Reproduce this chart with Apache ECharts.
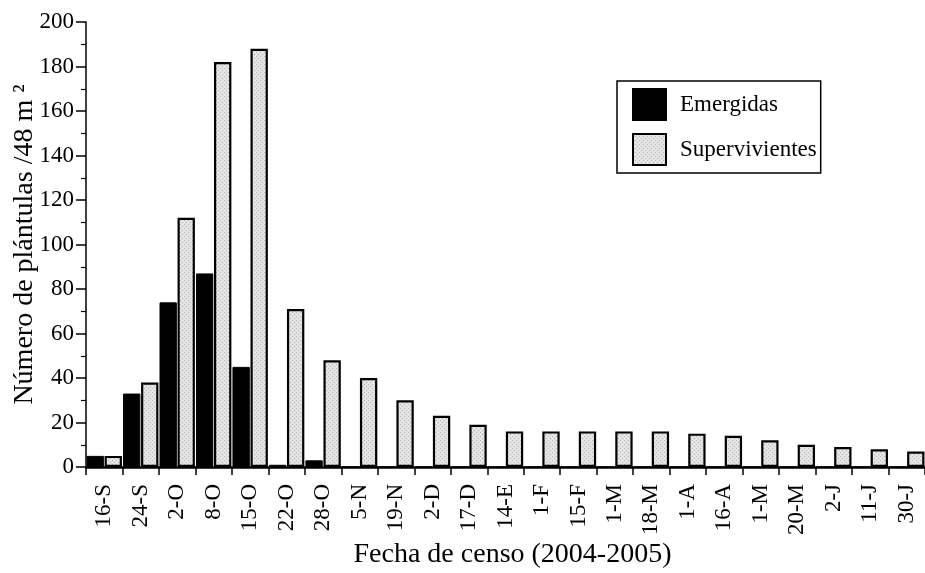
<!DOCTYPE html>
<html>
<head>
<meta charset="utf-8">
<script src="https://cdn.jsdelivr.net/npm/echarts@6/dist/echarts.min.js"></script>
<style>
  html, body { margin: 0; padding: 0; background: #fff; }
  #chart { width: 925px; height: 573px; }
</style>
</head>
<body>
<div id="chart"></div>
<script>
// fechas de censo (2004-2005)
var fechas = ['16-S', '24-S', '2-O', '8-O', '15-O', '22-O', '28-O', '5-N', '19-N', '2-D', '17-D',
  '14-E', '1-F', '15-F', '1-M', '18-M', '1-A', '16-A', '1-M', '20-M', '2-J', '11-J', '30-J'];
var emergidas = [5, 33, 74, 87, 45, 1, 3, 0, 0, 0, 0, 0, 0, 0, 0, 0, 0, 0, 0, 0, 0, 0, 0];
var supervivientes = [5, 38, 112, 182, 188, 71, 48, 40, 30, 23, 19, 16, 16, 16, 16, 16, 15, 14, 12, 10, 9, 8, 7];
var yTicks = [0, 200, 20];

// trama punteada gris para las barras de supervivientes
function trama() {
  var c = document.createElement('canvas');
  c.width = 4; c.height = 4;
  var ctx = c.getContext('2d');
  ctx.fillStyle = '#e2e2e2';
  ctx.fillRect(0, 0, 4, 4);
  ctx.fillStyle = '#b4b4b4';
  ctx.fillRect(0, 0, 1, 1);
  ctx.fillRect(2, 2, 1, 1);
  ctx.fillStyle = '#f2f2f2';
  ctx.fillRect(2, 0, 1, 1);
  ctx.fillRect(0, 2, 1, 1);
  return c;
}

var serif = '"Liberation Serif", "Times New Roman", serif';
var myChart = echarts.init(document.getElementById('chart'));

var option = {
  animation: false,
  grid: { left: 86, right: 0, top: 22, bottom: 106, containLabel: false, outerBoundsMode: 'none' },
  legend: {
    orient: 'vertical',
    left: 617,
    top: 81,
    icon: 'rect',
    itemWidth: 33,
    itemHeight: 31,
    itemGap: 12,
    borderColor: '#000',
    borderWidth: 1.5,
    padding: [7, 4, 7, 15],
    textStyle: { fontFamily: serif, fontSize: 23, color: '#000', padding: [0, 0, 0, 9] },
    data: ['Emergidas', 'Supervivientes']
  },
  xAxis: {
    type: 'category',
    data: fechas,
    name: 'Fecha de censo (2004-2005)',
    nameLocation: 'middle',
    nameGap: 74,
    nameMoveOverlap: false,
    nameTextStyle: { fontFamily: serif, fontSize: 28, color: '#000', padding: [0, 0, 0, 14] },
    axisLine: { lineStyle: { color: '#000', width: 2.5 } },
    axisTick: { show: true, length: 8, lineStyle: { color: '#000', width: 1.5 } },
    axisLabel: { rotate: 90, fontFamily: serif, fontSize: 23, color: '#000', margin: 17, interval: 0 }
  },
  yAxis: {
    type: 'value',
    min: yTicks[0],
    max: yTicks[1],
    interval: yTicks[2],
    name: 'Número de plántulas /48 m ²',
    nameLocation: 'middle',
    nameGap: 47,
    nameMoveOverlap: false,
    nameTextStyle: { fontFamily: serif, fontSize: 28, color: '#000' },
    axisLine: { show: true, lineStyle: { color: '#000', width: 1.5 } },
    axisTick: { show: true, length: 10, lineStyle: { color: '#000', width: 1.5 } },
    minorTick: { show: true, splitNumber: 2, length: 5, lineStyle: { color: '#000', width: 1.2 } },
    splitLine: { show: false },
    axisLabel: { fontFamily: serif, fontSize: 23, color: '#000', margin: 12 }
  },
  series: [
    {
      name: 'Emergidas',
      type: 'bar',
      data: emergidas,
      barGap: '4%',
      barCategoryGap: '3%',
      itemStyle: { color: '#000', borderColor: '#000', borderWidth: 1 }
    },
    {
      name: 'Supervivientes',
      type: 'bar',
      data: supervivientes,
      itemStyle: { color: { image: trama(), repeat: 'repeat' }, borderColor: '#000', borderWidth: 2.2 }
    }
  ]
};

myChart.setOption(option);
window.addEventListener('resize', () => myChart.resize());
</script>
</body>
</html>
